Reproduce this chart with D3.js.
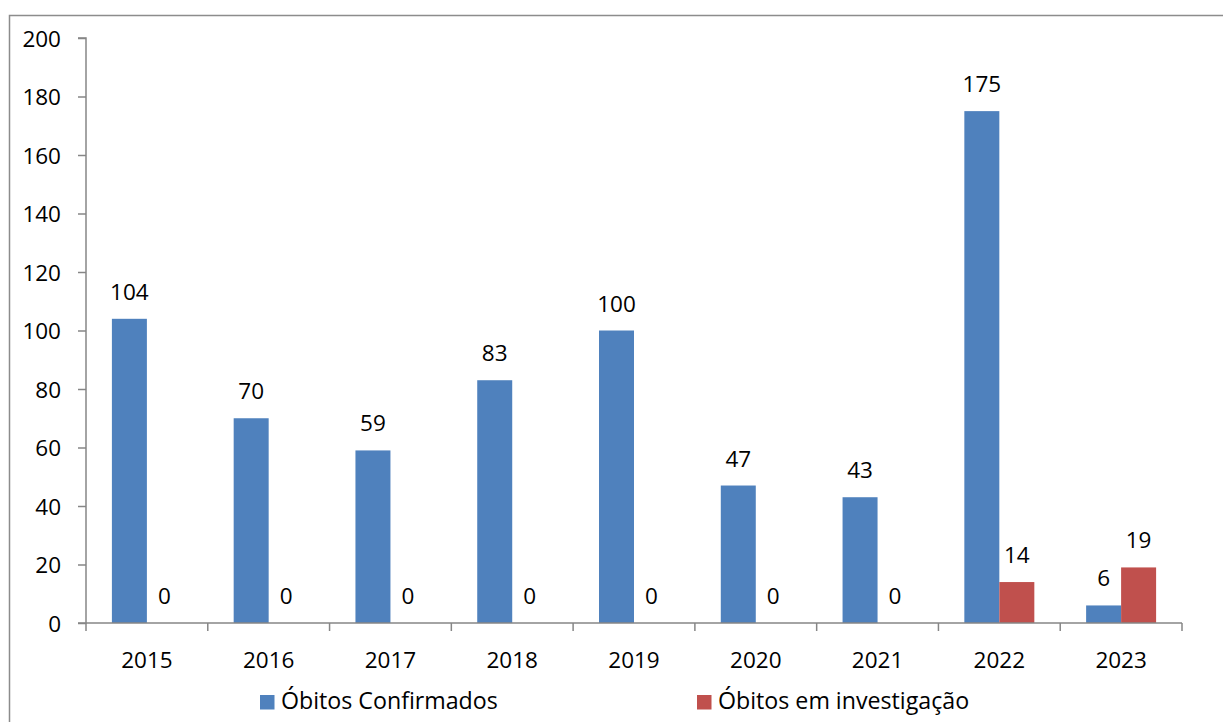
<!DOCTYPE html>
<html><head><meta charset="utf-8">
<script src="https://cdn.jsdelivr.net/npm/d3@7"></script>
<style>
html,body{margin:0;padding:0;background:#fff;}
svg{display:block;}
text{font-family:"Open Sans","Liberation Sans",sans-serif;fill:#000;}
</style></head>
<body>
<svg id="chart" width="1223" height="722"></svg>
<script>
const years = ["2015","2016","2017","2018","2019","2020","2021","2022","2023"];
const seriesNames = ["Óbitos Confirmados","Óbitos em investigação"];
const confirmados = [104,70,59,83,100,47,43,175,6];
const investigacao = [0,0,0,0,0,0,0,14,19];
const yTicks = [0,20,40,60,80,100,120,140,160,180,200];
const colors = ["#4F81BD","#C0504D"];

(function(){
const FONT = "Open Sans";
const svg = d3.select("#chart");
svg.append("rect").attr("x",9.5).attr("y",15.5).attr("width",1230).attr("height",730)
  .attr("fill","none").attr("stroke","#8c8c8c").attr("stroke-width",1.5);

const pL = 86, pR = 1182, pT = 38, pB = 623;
const x0 = d3.scaleBand().domain(years).range([pL,pR]).paddingInner(0).paddingOuter(0);
const x1 = d3.scaleBand().domain(seriesNames).range([0,x0.bandwidth()]).paddingInner(0).paddingOuter(0.74);
const y = d3.scaleLinear().domain([0,200]).range([pB,pT]);

const data = years.map((yr,i)=>({year:yr, vals:[confirmados[i],investigacao[i]]}));

const fs = 22.5;
const yAxis = svg.append("g").attr("transform",`translate(${pL},0)`)
  .call(d3.axisLeft(y).tickValues(yTicks).tickSize(8).tickPadding(17).tickFormat(d3.format("d")));
yAxis.select(".domain").attr("stroke","#868686").attr("stroke-width",1.5).attr("d",`M-8,${pT}H0V${pB}H-8`);
yAxis.selectAll(".tick line").attr("stroke","#868686").attr("stroke-width",1.5);
yAxis.selectAll(".tick text").attr("font-size",fs).attr("font-family",FONT).attr("fill","#000")
  .attr("dy",null).attr("y",8);

const g = svg.append("g");
data.forEach(d=>{
  d.vals.forEach((v,j)=>{
    const bx = x0(d.year)+x1(seriesNames[j]);
    g.append("rect").attr("x",bx).attr("y",y(v)).attr("width",x1.bandwidth()).attr("height",y(0)-y(v))
      .attr("fill",colors[j]);
    g.append("text").attr("x",bx+x1.bandwidth()/2).attr("y",y(v)-19).attr("text-anchor","middle")
      .attr("font-size",fs).text(v);
  });
});

const xAxis = svg.append("g").attr("transform",`translate(0,${pB})`)
  .call(d3.axisBottom(x0).tickSize(0));
xAxis.select(".domain").remove();
xAxis.selectAll(".tick text").attr("font-size",fs).attr("font-family",FONT).attr("fill","#000")
  .attr("dy",null).attr("y",45);
svg.append("line").attr("x1",pL).attr("x2",pR).attr("y1",pB).attr("y2",pB)
  .attr("stroke","#868686").attr("stroke-width",1.5);
svg.selectAll(".xt").data(d3.range(years.length+1)).enter().append("line")
  .attr("x1",i=>pL+i*x0.step()).attr("x2",i=>pL+i*x0.step())
  .attr("y1",pB).attr("y2",pB+8).attr("stroke","#868686").attr("stroke-width",1.5);

const legX = [260,697];
seriesNames.forEach((n,j)=>{
  svg.append("rect").attr("x",legX[j]).attr("y",695).attr("width",14.5).attr("height",14.5).attr("fill",colors[j]);
  svg.append("text").attr("x",legX[j]+21).attr("y",709).attr("font-size",23.2).text(n);
});
})();
</script>
</body></html>
